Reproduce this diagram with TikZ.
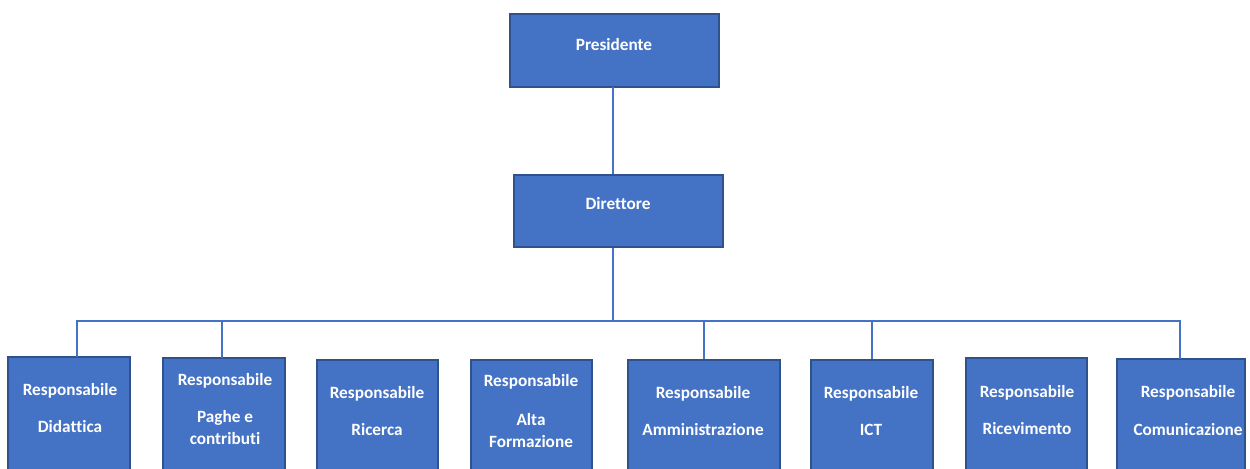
\documentclass[tikz,border=0pt]{standalone}
\usepackage{fontspec}
\setmainfont{Carlito}[Ligatures={NoCommon}]
\usetikzlibrary{fit,calc}
\definecolor{boxfill}{HTML}{4472C4}
\definecolor{boxline}{HTML}{2F528F}
\definecolor{conn}{HTML}{4472C4}
\tikzset{
  orgbox/.style={draw=boxline, fill=boxfill, line width=0.9pt, inner sep=0pt, rectangle},
  lbl/.style={text=white, font=\bfseries\fontsize{9.8}{12.5}\selectfont, inner sep=0pt, align=center},
  link/.style={draw=conn, line width=1.5pt}
}
\begin{document}
\begin{tikzpicture}[x=0.02cm, y=-0.02cm]
\useasboundingbox (0,0) rectangle (1250,469);
\clip (0,0) rectangle (1250,469);
% boxes
\node[orgbox, fit={(510,14) (719,87)}] (pres) {};
\node[orgbox, fit={(514,175) (723,247)}] (dir) {};
\node[orgbox, fit={(8,357) (130,495)}] (b1) {};
\node[orgbox, fit={(163,358) (285,495)}] (b2) {};
\node[orgbox, fit={(317,360) (438,495)}] (b3) {};
\node[orgbox, fit={(471,360) (592,495)}] (b4) {};
\node[orgbox, fit={(628,360) (780,495)}] (b5) {};
\node[orgbox, fit={(811,360) (933,495)}] (b6) {};
\node[orgbox, fit={(966,358) (1087,495)}] (b7) {};
\node[orgbox, fit={(1117,359) (1245,495)}] (b8) {};
% labels
\node[lbl] (tpres) at (614,45) {Presidente};
\node[lbl] (tdir) at (618,204) {Direttore};
\node[lbl] (t1a) at (70,391) {Responsabile};
\node[lbl] (t1b) at (70,427) {Didattica};
\node[lbl] (t2a) at (225,381) {Responsabile};
\node[lbl] (t2b) at (225,428) {Paghe e\\contributi};
\node[lbl] (t3a) at (377,394) {Responsabile};
\node[lbl] (t3b) at (377,430) {Ricerca};
\node[lbl] (t4a) at (531,382) {Responsabile};
\node[lbl] (t4b) at (531,430.5) {Alta\\Formazione};
\node[lbl] (t5a) at (703,394) {Responsabile};
\node[lbl] (t5b) at (703,430) {Amministrazione};
\node[lbl] (t6a) at (871,394) {Responsabile};
\node[lbl] (t6b) at (871,430) {ICT};
\node[lbl] (t7a) at (1027,393) {Responsabile};
\node[lbl] (t7b) at (1027,429) {Ricevimento};
\node[lbl] (t8a) at (1188,393) {Responsabile};
\node[lbl] (t8b) at (1188,430) {Comunicazione};
% connectors
\coordinate (pdrop) at (613,87);
\coordinate (bus) at (613,321);
\coordinate (b1top) at (77,357);
\coordinate (b8top) at (1180,359);
\draw[link] (pdrop) -- (pdrop |- dir.north);
\draw[link] (pdrop |- dir.south) -- (bus);
\draw[link] (b1top) |- (b8top |- bus) -- (b8top);
\draw[link] (222,358) -- (222,321);
\draw[link] ($(b3.north)+(3.5,0)$) -- ($(b3.north)+(3.5,0)$ |- bus);
\draw[link] ($(b4.north)+(2.5,0)$) -- ($(b4.north)+(2.5,0)$ |- bus);
\draw[link] (b5.north) -- (b5.north |- bus);
\draw[link] (b6.north) -- (b6.north |- bus);
\draw[link] ($(b7.north)+(1.5,0)$) -- ($(b7.north)+(1.5,0)$ |- bus);
\end{tikzpicture}
\end{document}
